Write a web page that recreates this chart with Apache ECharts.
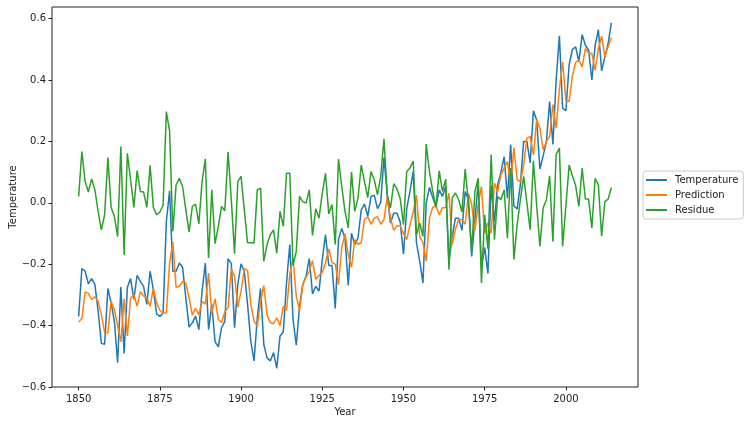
<!DOCTYPE html>
<html>
<head>
<meta charset="utf-8">
<script src="https://cdn.jsdelivr.net/npm/echarts@6/dist/echarts.min.js"></script>
<style>
html,body{margin:0;padding:0;background:#fff;}
#chart{width:751px;height:425px;}
</style>
</head>
<body>
<div id="chart"></div>
<script>
var firstYear = 1850;
var temperature = [
-0.37,-0.214,-0.223,-0.264,-0.247,-0.266,-0.353,-0.458,-0.461,-0.279,
-0.326,-0.386,-0.521,-0.274,-0.491,-0.275,-0.247,-0.315,-0.236,-0.256,
-0.272,-0.331,-0.223,-0.283,-0.362,-0.37,-0.36,-0.061,0.039,-0.223,
-0.223,-0.196,-0.21,-0.31,-0.405,-0.391,-0.369,-0.413,-0.288,-0.196,
-0.413,-0.331,-0.453,-0.469,-0.407,-0.386,-0.182,-0.198,-0.407,-0.266,
-0.199,-0.223,-0.33,-0.451,-0.515,-0.375,-0.279,-0.461,-0.505,-0.515,
-0.488,-0.539,-0.434,-0.421,-0.261,-0.136,-0.38,-0.464,-0.337,-0.266,
-0.239,-0.182,-0.297,-0.272,-0.288,-0.185,-0.104,-0.204,-0.204,-0.344,
-0.12,-0.084,-0.115,-0.269,-0.099,-0.136,-0.115,-0.023,-0.004,-0.044,
0.02,0.025,-0.019,0.002,0.147,0.026,-0.066,-0.034,-0.034,-0.063,
-0.167,-0.019,0.037,0.102,-0.13,-0.191,-0.261,-0.001,0.05,0.017,
-0.012,0.042,0.021,0.053,-0.19,-0.11,-0.05,-0.05,-0.09,0.037,
0.01,-0.175,-0.055,0.065,-0.21,-0.145,-0.23,0.055,-0.06,0.06,
0.1,0.15,0.015,0.19,-0.01,-0.02,0.06,0.2,0.2,0.13,
0.3,0.27,0.11,0.153,0.2,0.33,0.19,0.4,0.544,0.308,
0.3,0.45,0.5,0.508,0.46,0.548,0.513,0.497,0.4,0.513,
0.564,0.43,0.475,0.519,0.586
];
var prediction = [
-0.388,-0.377,-0.29,-0.295,-0.315,-0.306,-0.321,-0.364,-0.423,-0.423,
-0.321,-0.348,-0.40,-0.453,-0.313,-0.434,-0.31,-0.299,-0.337,-0.29,
-0.304,-0.31,-0.337,-0.279,-0.326,-0.35,-0.36,-0.358,-0.196,-0.128,
-0.275,-0.272,-0.256,-0.261,-0.31,-0.366,-0.344,-0.364,-0.321,-0.33,
-0.229,-0.36,-0.313,-0.38,-0.39,-0.355,-0.342,-0.215,-0.239,-0.34,
-0.288,-0.215,-0.22,-0.33,-0.386,-0.402,-0.321,-0.27,-0.366,-0.391,
-0.394,-0.375,-0.4,-0.337,-0.35,-0.232,-0.18,-0.304,-0.35,-0.268,
-0.242,-0.223,-0.188,-0.25,-0.236,-0.227,-0.195,-0.15,-0.195,-0.2,
-0.267,-0.145,-0.1,-0.17,-0.21,-0.12,-0.135,-0.13,-0.055,-0.045,
-0.07,-0.05,-0.045,-0.07,-0.055,0.02,-0.05,-0.09,-0.075,-0.075,
-0.1,-0.12,-0.072,-0.03,0.025,-0.11,-0.13,-0.19,-0.05,-0.015,
-0.01,-0.04,-0.016,-0.015,0.031,-0.136,-0.085,-0.055,-0.055,-0.07,
0.03,-0.005,-0.09,-0.006,0.053,-0.099,-0.065,-0.099,0.064,0.037,
0.091,0.113,0.134,0.058,0.18,0.075,0.069,0.123,0.21,0.216,
0.156,0.27,0.243,0.173,0.199,0.216,0.32,0.243,0.37,0.459,
0.332,0.33,0.413,0.457,0.466,0.443,0.502,0.488,0.486,0.432,
0.502,0.543,0.475,0.51,0.538
];
var residue = [
0.021,0.167,0.069,0.035,0.078,0.042,-0.028,-0.088,-0.039,0.147,
-0.015,-0.044,-0.11,0.183,-0.171,0.161,0.075,-0.015,0.105,0.037,
0.035,-0.015,0.122,-0.015,-0.039,-0.03,-0.008,0.297,0.234,-0.093,
0.058,0.08,0.053,-0.023,-0.095,-0.012,-0.004,-0.069,0.069,0.143,
-0.18,0.042,-0.133,-0.077,-0.012,-0.026,0.165,0.01,-0.166,0.069,
0.086,-0.023,-0.13,-0.13,-0.131,0.042,0.048,-0.191,-0.136,-0.104,
-0.088,-0.164,-0.028,-0.077,0.096,0.096,-0.204,-0.158,0.021,0.004,
-0.001,0.042,-0.106,-0.019,-0.05,0.031,0.096,-0.036,-0.006,-0.136,
0.142,0.053,-0.028,-0.082,0.1,-0.028,0.015,0.123,0.069,0.017,
0.102,0.075,0.026,0.086,0.208,0.026,-0.017,0.062,0.045,0.013,
-0.071,0.102,0.113,0.136,-0.104,-0.066,-0.109,0.191,0.102,0.037,
-0.015,0.104,0.037,0.077,-0.218,0.015,0.032,0.01,-0.03,0.11,
0.0,-0.16,0.037,0.08,-0.261,-0.039,-0.15,0.156,-0.12,0.02,
0.01,0.042,-0.115,0.113,-0.185,-0.07,0.01,0.086,0.0,-0.088,
0.137,-0.008,-0.142,-0.017,0.01,0.088,-0.127,0.158,0.178,-0.142,
-0.01,0.123,0.088,0.056,-0.012,0.113,0.012,0.012,-0.082,0.08,
0.058,-0.109,0.004,0.012,0.05
];
var xTicks = [1850, 1875, 1900, 1925, 1950, 1975, 2000];
var yTicks = [-0.6, -0.4, -0.2, 0.0, 0.2, 0.4, 0.6];
var seriesNames = ['Temperature', 'Prediction', 'Residue'];
var colors = ['#1f77b4', '#ff7f0e', '#2ca02c'];

var years = temperature.map(function (_, i) { return firstYear + i; });
function pairs(vals) { return vals.map(function (v, i) { return [years[i], v]; }); }
var allVals = [temperature, prediction, residue];

var chart = echarts.init(document.getElementById('chart'), null, {renderer: 'canvas'});
var fontFam = 'DejaVu Sans';
chart.setOption({
  animation: false,
  backgroundColor: '#ffffff',
  textStyle: {fontFamily: fontFam},
  grid: {left: 52, right: 113, top: 7, bottom: 38, show: true, borderColor: '#222', borderWidth: 1,
    backgroundColor: 'transparent', containLabel: false, outerBoundsMode: 'none'},
  legend: {
    orient: 'vertical', left: 643, top: 171,
    padding: [3, 5, 3, 3],
    itemGap: 3, itemWidth: 21, itemHeight: 2, icon: 'rect',
    backgroundColor: 'rgba(255,255,255,0.8)', borderColor: '#cccccc', borderWidth: 1, borderRadius: 3,
    textStyle: {fontSize: 10, color: '#222', fontFamily: fontFam, lineHeight: 12, padding: [0, 0, 0, 3]},
    data: seriesNames
  },
  xAxis: {
    type: 'value', min: 1841.8, max: 2022.2,
    name: 'Year', nameLocation: 'middle', nameGap: 20, nameMoveOverlap: false,
    nameTextStyle: {fontSize: 10, color: '#222', fontFamily: fontFam},
    axisLine: {show: false, onZero: false},
    axisTick: {show: true, length: 3.5, inside: false, lineStyle: {color: '#222'}, customValues: xTicks},
    axisLabel: {fontSize: 10, color: '#222', margin: 7, customValues: xTicks, formatter: function (v) { return String(v); }},
    splitLine: {show: false}
  },
  yAxis: {
    type: 'value', min: -0.6, max: 0.6377,
    name: 'Temperature', nameLocation: 'middle', nameGap: 34, nameRotate: 90, nameMoveOverlap: false,
    nameTextStyle: {fontSize: 10, color: '#222', fontFamily: fontFam},
    axisLine: {show: false, onZero: false},
    axisTick: {show: true, length: 3.5, inside: false, lineStyle: {color: '#222'}, customValues: yTicks},
    axisLabel: {fontSize: 10, color: '#222', margin: 6, customValues: yTicks,
      formatter: function (v) { return (Math.abs(v) < 1e-9 ? 0 : v).toFixed(1).replace('-', '\u2212'); }},
    splitLine: {show: false}
  },
  series: seriesNames.map(function (n, k) {
    return {
      name: n, type: 'line', data: pairs(allVals[k]),
      showSymbol: false, symbol: 'none',
      lineStyle: {width: 1.5, color: colors[k]},
      itemStyle: {color: colors[k]},
      z: 2 + k
    };
  })
});
</script>
</body>
</html>
